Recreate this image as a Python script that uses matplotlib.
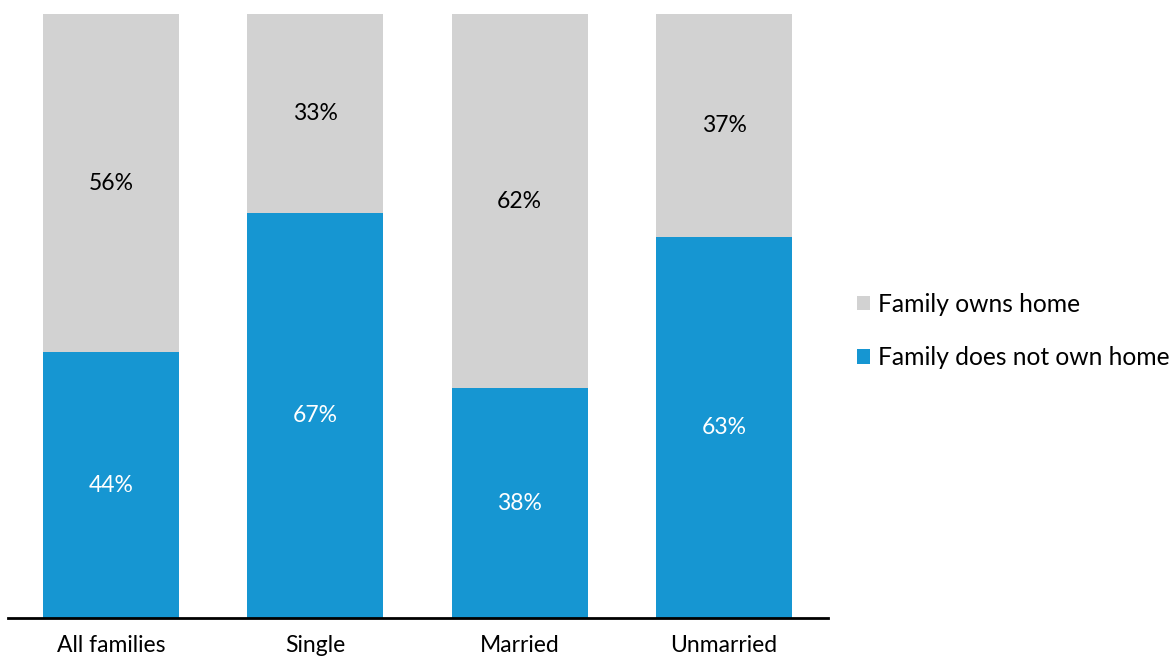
import matplotlib
matplotlib.use("Agg")
from matplotlib import pyplot as plt
import numpy as np

plt.rcParams['font.family'] = ['Lato', 'DejaVu Sans']

categories = ['All families', 'Single', 'Married', 'Unmarried']
not_own = [44, 67, 38, 63]
owns = [56, 33, 62, 37]

blue = '#1696d2'
gray = '#d2d2d2'

fig = plt.figure(figsize=(11.72, 6.59), dpi=100)
ax = fig.add_axes([8 / 1172, 41 / 659, 820 / 1172, 604 / 659])

x = np.arange(len(categories))
b1 = ax.bar(x, not_own, width=0.666, color=blue, label='Family does not own home')
b2 = ax.bar(x, owns, width=0.666, bottom=not_own, color=gray, label='Family owns home')

for i in range(len(categories)):
    ax.text(x[i], not_own[i] / 2, f'{not_own[i]}%', ha='center', va='center',
            color='white', fontsize=16.5)
    ax.text(x[i], not_own[i] + owns[i] / 2, f'{owns[i]}%', ha='center', va='center',
            color='black', fontsize=16.5)

ax.set_xlim(-0.504, 3.509)
ax.set_ylim(0, 100)
ax.set_xticks(x)
ax.set_xticklabels(categories, fontsize=16.5)
ax.tick_params(axis='x', length=0, pad=12)
ax.set_yticks([])
for s in ['top', 'right', 'left']:
    ax.spines[s].set_visible(False)
ax.spines['bottom'].set_linewidth(2)

fig.legend(handles=[b2, b1], labels=['Family owns home', 'Family does not own home'],
           loc='center left', bbox_to_anchor=(857 / 1172, 1 - 331 / 659),
           frameon=False, fontsize=17.7, handlelength=0.53, handleheight=0.53,
           handletextpad=0.33, labelspacing=1.25, borderpad=0, borderaxespad=0)

plt.savefig('out.png', dpi=100)
